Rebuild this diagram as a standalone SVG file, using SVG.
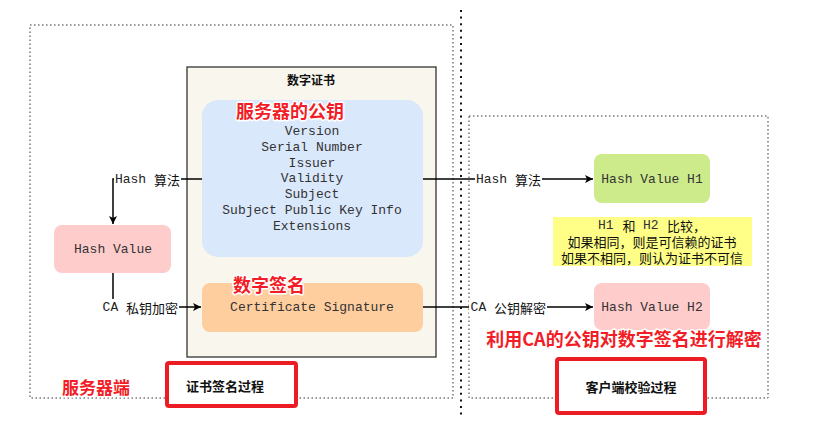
<svg xmlns="http://www.w3.org/2000/svg" width="829" height="425" viewBox="0 0 829 425">
<defs>
<marker id="arr" markerWidth="10" markerHeight="10" refX="9" refY="5" orient="auto" markerUnits="userSpaceOnUse">
<path d="M1,1 L9,5 L1,9 L3,5 Z" fill="#000"/>
</marker>
<style>
.cont{fill:none;stroke:#333;stroke-width:1;stroke-dasharray:1.5 2.5}
.mono{font-family:"Liberation Mono","Courier New",monospace;font-size:13px;fill:#333;text-anchor:middle;dominant-baseline:central}
.lbl{font-family:"Liberation Mono","Noto Sans CJK SC",monospace;font-size:13px;fill:#222;dominant-baseline:central;text-anchor:end}
.cjk{font-family:"Noto Sans CJK SC","Noto Sans",sans-serif;fill:#111}
.red{font-family:"Noto Sans CJK SC",sans-serif;font-weight:bold;fill:#f21d26;stroke:#fff;stroke-width:3;paint-order:stroke;stroke-linejoin:round;dominant-baseline:central}
.tag{fill:#fff;stroke:#ec1c24;stroke-width:4}
.tagt{font-family:"Noto Sans CJK SC",sans-serif;font-weight:bold;font-size:13px;fill:#111;text-anchor:middle;dominant-baseline:central}
.conn{fill:none;stroke:#000;stroke-width:1.5}
.bg{fill:#fff}
.nt{font-size:13px;text-anchor:middle;dominant-baseline:central}
.nm{font-family:"Liberation Mono",monospace;font-size:13px;dominant-baseline:central;fill:#333}
</style>
</defs>
<rect width="829" height="425" fill="#fff"/>
<g id="server-side">
<rect class="cont" x="30" y="25" width="423" height="373"/>
<text class="red" x="96" y="386" font-size="17" text-anchor="middle">服务器端</text>
</g>
<g id="divider">
<line x1="461" y1="10" x2="461" y2="416" stroke="#111" stroke-width="2" stroke-dasharray="2 4.6"/>
</g>
<g id="client-side">
<rect class="cont" x="469" y="116" width="299" height="282"/>
</g>
<g id="certificate">
<rect x="187" y="67" width="249" height="290" fill="#f9f7ed" stroke="#333" stroke-width="1.3"/>
<text x="311" y="79" class="cjk" font-size="12" font-weight="bold" text-anchor="middle" dominant-baseline="central">数字证书</text>
</g>
<g id="public-key-info">
<rect x="202" y="100" width="221" height="157" rx="16" fill="#dae8fc"/>
<text class="mono" x="312" y="131">Version</text>
<text class="mono" x="312" y="147">Serial Number</text>
<text class="mono" x="312" y="163">Issuer</text>
<text class="mono" x="312" y="178">Validity</text>
<text class="mono" x="312" y="194">Subject</text>
<text class="mono" x="312" y="210">Subject Public Key Info</text>
<text class="mono" x="312" y="226">Extensions</text>
<text class="red" x="290" y="110" font-size="18" text-anchor="middle">服务器的公钥</text>
</g>
<g id="cert-signature">
<rect x="202" y="283" width="221" height="49" rx="8" fill="#ffce9f"/>
<text class="mono" x="312" y="307">Certificate Signature</text>
<text class="red" x="269" y="284" font-size="18" text-anchor="middle">数字签名</text>
</g>
<g id="hash-value">
<rect x="54" y="225" width="117" height="48" rx="8" fill="#ffcccc"/>
<text class="mono" x="113" y="249">Hash Value</text>
</g>
<g id="hash-h1">
<rect x="594" y="154" width="116" height="49" rx="8" fill="#cdeb8b"/>
<text class="mono" x="652" y="179">Hash Value H1</text>
</g>
<g id="note">
<rect x="553" y="217" width="199" height="49" fill="#ffff88"/>
<text x="598" y="225" class="nm">H1</text>
<text x="629" y="225" class="cjk nt">和</text>
<text x="643" y="225" class="nm">H2</text>
<text x="667" y="225" class="cjk" font-size="13" dominant-baseline="central">比较，</text>
<text class="cjk nt" x="652" y="241">如果相同，则是可信赖的证书</text>
<text class="cjk nt" x="652" y="257">如果不相同，则认为证书不可信</text>
</g>
<g id="hash-h2">
<rect x="594" y="283" width="116" height="47" rx="8" fill="#ffcccc"/>
<text class="mono" x="652" y="307">Hash Value H2</text>
</g>
<g id="connectors">
<path class="conn" d="M202,179 H113 V224" marker-end="url(#arr)"/>
<path class="conn" d="M113,273 V307 H201" marker-end="url(#arr)"/>
<path class="conn" d="M423,179 H593" marker-end="url(#arr)"/>
<path class="conn" d="M423,307 H593" marker-end="url(#arr)"/>
<rect class="bg" x="114" y="171" width="67" height="16"/>
<text class="lbl" x="180" y="179">Hash <tspan class="cjk">算法</tspan></text>
<rect class="bg" x="101" y="299" width="78" height="16"/>
<text class="lbl" x="178" y="307">CA <tspan class="cjk">私钥加密</tspan></text>
<rect class="bg" x="475" y="171" width="67" height="16"/>
<text class="lbl" x="541" y="179">Hash <tspan class="cjk">算法</tspan></text>
<rect class="bg" x="469" y="299" width="78" height="16"/>
<text class="lbl" x="546" y="307">CA <tspan class="cjk">公钥解密</tspan></text>
</g>
<g id="decrypt-note">
<text class="red" x="624" y="338" font-size="18" text-anchor="middle">利用CA的公钥对数字签名进行解密</text>
</g>
<g id="tag-sign">
<rect class="tag" x="167" y="363" width="129" height="43" rx="2"/>
<text class="tagt" x="225" y="385">证书签名过程</text>
</g>
<g id="tag-verify">
<rect class="tag" x="557" y="359" width="148" height="54" rx="2"/>
<text class="tagt" x="631" y="386">客户端校验过程</text>
</g>
</svg>
